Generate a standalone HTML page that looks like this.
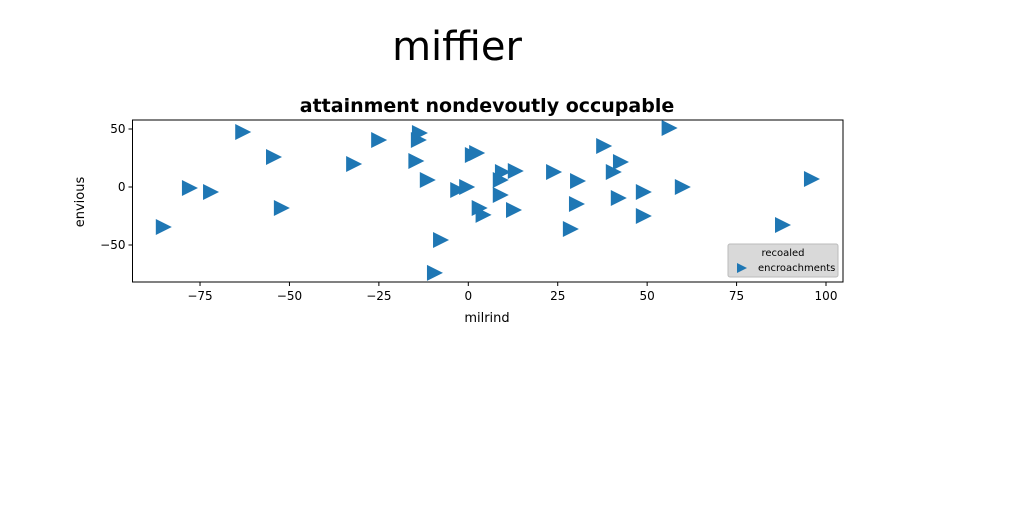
<!DOCTYPE html>
<html><head><meta charset="utf-8"><style>
body{margin:0;background:#fff;width:1024px;height:512px;overflow:hidden;font-family:"Liberation Sans","DejaVu Sans",sans-serif}
svg text{font-family:"DejaVu Sans","Liberation Sans",sans-serif}
</style></head><body>
<svg id="c" width="1024" height="512">
<text x="457" y="60" font-size="40" text-anchor="middle">miffier</text>
<text x="487" y="112" font-size="19" font-weight="bold" text-anchor="middle">attainment nondevoutly occupable</text>
<g id="plot"></g>
<text x="487" y="322" font-size="13" text-anchor="middle">milrind</text>
<text x="84" y="202" font-size="13" text-anchor="middle" transform="rotate(-90 84 202)">envious</text>
<g>
<rect x="728" y="244" width="110" height="33" fill="#d9d9d9" stroke="#bbb" rx="2"/>
<text x="783" y="256" font-size="10" text-anchor="middle">recoaled</text>
<path d="M737,263 L747,268 L737,273 Z" fill="#1f77b4"/>
<text x="758" y="271" font-size="10">encroachments</text>
</g>
</svg>
<script>
const xs=[-63.2,-54.6,-72.2,-78.1,-85.4,-52.4,-32.2,-25.2,-14.1,-13.8,-14.8,-11.6,-7.9,-9.6,-3.1,-0.6,1,2.2,2.9,4,9.4,8.8,13,8.8,12.5,23.7,30.4,30.1,28.4,37.7,42.4,40.4,41.8,48.8,48.8,56,59.7,95.8,87.7];
const ys=[47.4,25.9,-4.3,-0.9,-34.5,-18.1,19.8,40.5,40.5,46.6,22.4,6,-45.7,-74,-2.6,0,27.6,29.3,-18.1,-24,12.9,6,13.8,-6.9,-19.8,12.9,5.2,-14.7,-36.2,35.3,21.6,12.9,-9.5,-4.3,-25,50.9,0,6.9,-32.8];
const xTicks=[-75,-50,-25,0,25,50,75,100];
const yTicks=[50,0,-50];
const yTickLabels=["50","0","−50"];
const L=132.5,R=843,T=120,B=282;
const sx=v=>468.3+v*3.577, sy=v=>187-v*1.16;
const NS="http://www.w3.org/2000/svg";
const g=document.getElementById('plot');
function mk(t,a){const e=document.createElementNS(NS,t);for(const k in a)e.setAttribute(k,a[k]);g.appendChild(e);return e;}
const fr=mk('rect',{x:L,y:T,width:R-L,height:B-T,fill:'none',stroke:'#000','stroke-width':1});


xTicks.forEach(v=>{const x=sx(v);
const l=mk('line',{x1:x,x2:x,y1:B,y2:B+4,stroke:'#000'});


const t=mk('text',{x:x,y:B+18,'font-size':12,'text-anchor':'middle'});t.textContent=v<0?'−'+(-v):v;

});
yTicks.forEach((v,i)=>{const y=sy(v);
const l=mk('line',{x1:L-4,x2:L,y1:y,y2:y,stroke:'#000'});


const t=mk('text',{x:L-7,y:y+4,'font-size':12,'text-anchor':'end'});t.textContent=yTickLabels[i];

});
xs.forEach((v,i)=>{const x=sx(v),y=sy(ys[i]);
const p=mk('path',{d:`M${x-7},${y-8} L${x+9},${y} L${x-7},${y+8} Z`,fill:'#1f77b4'});

});
</script>
</body></html>
